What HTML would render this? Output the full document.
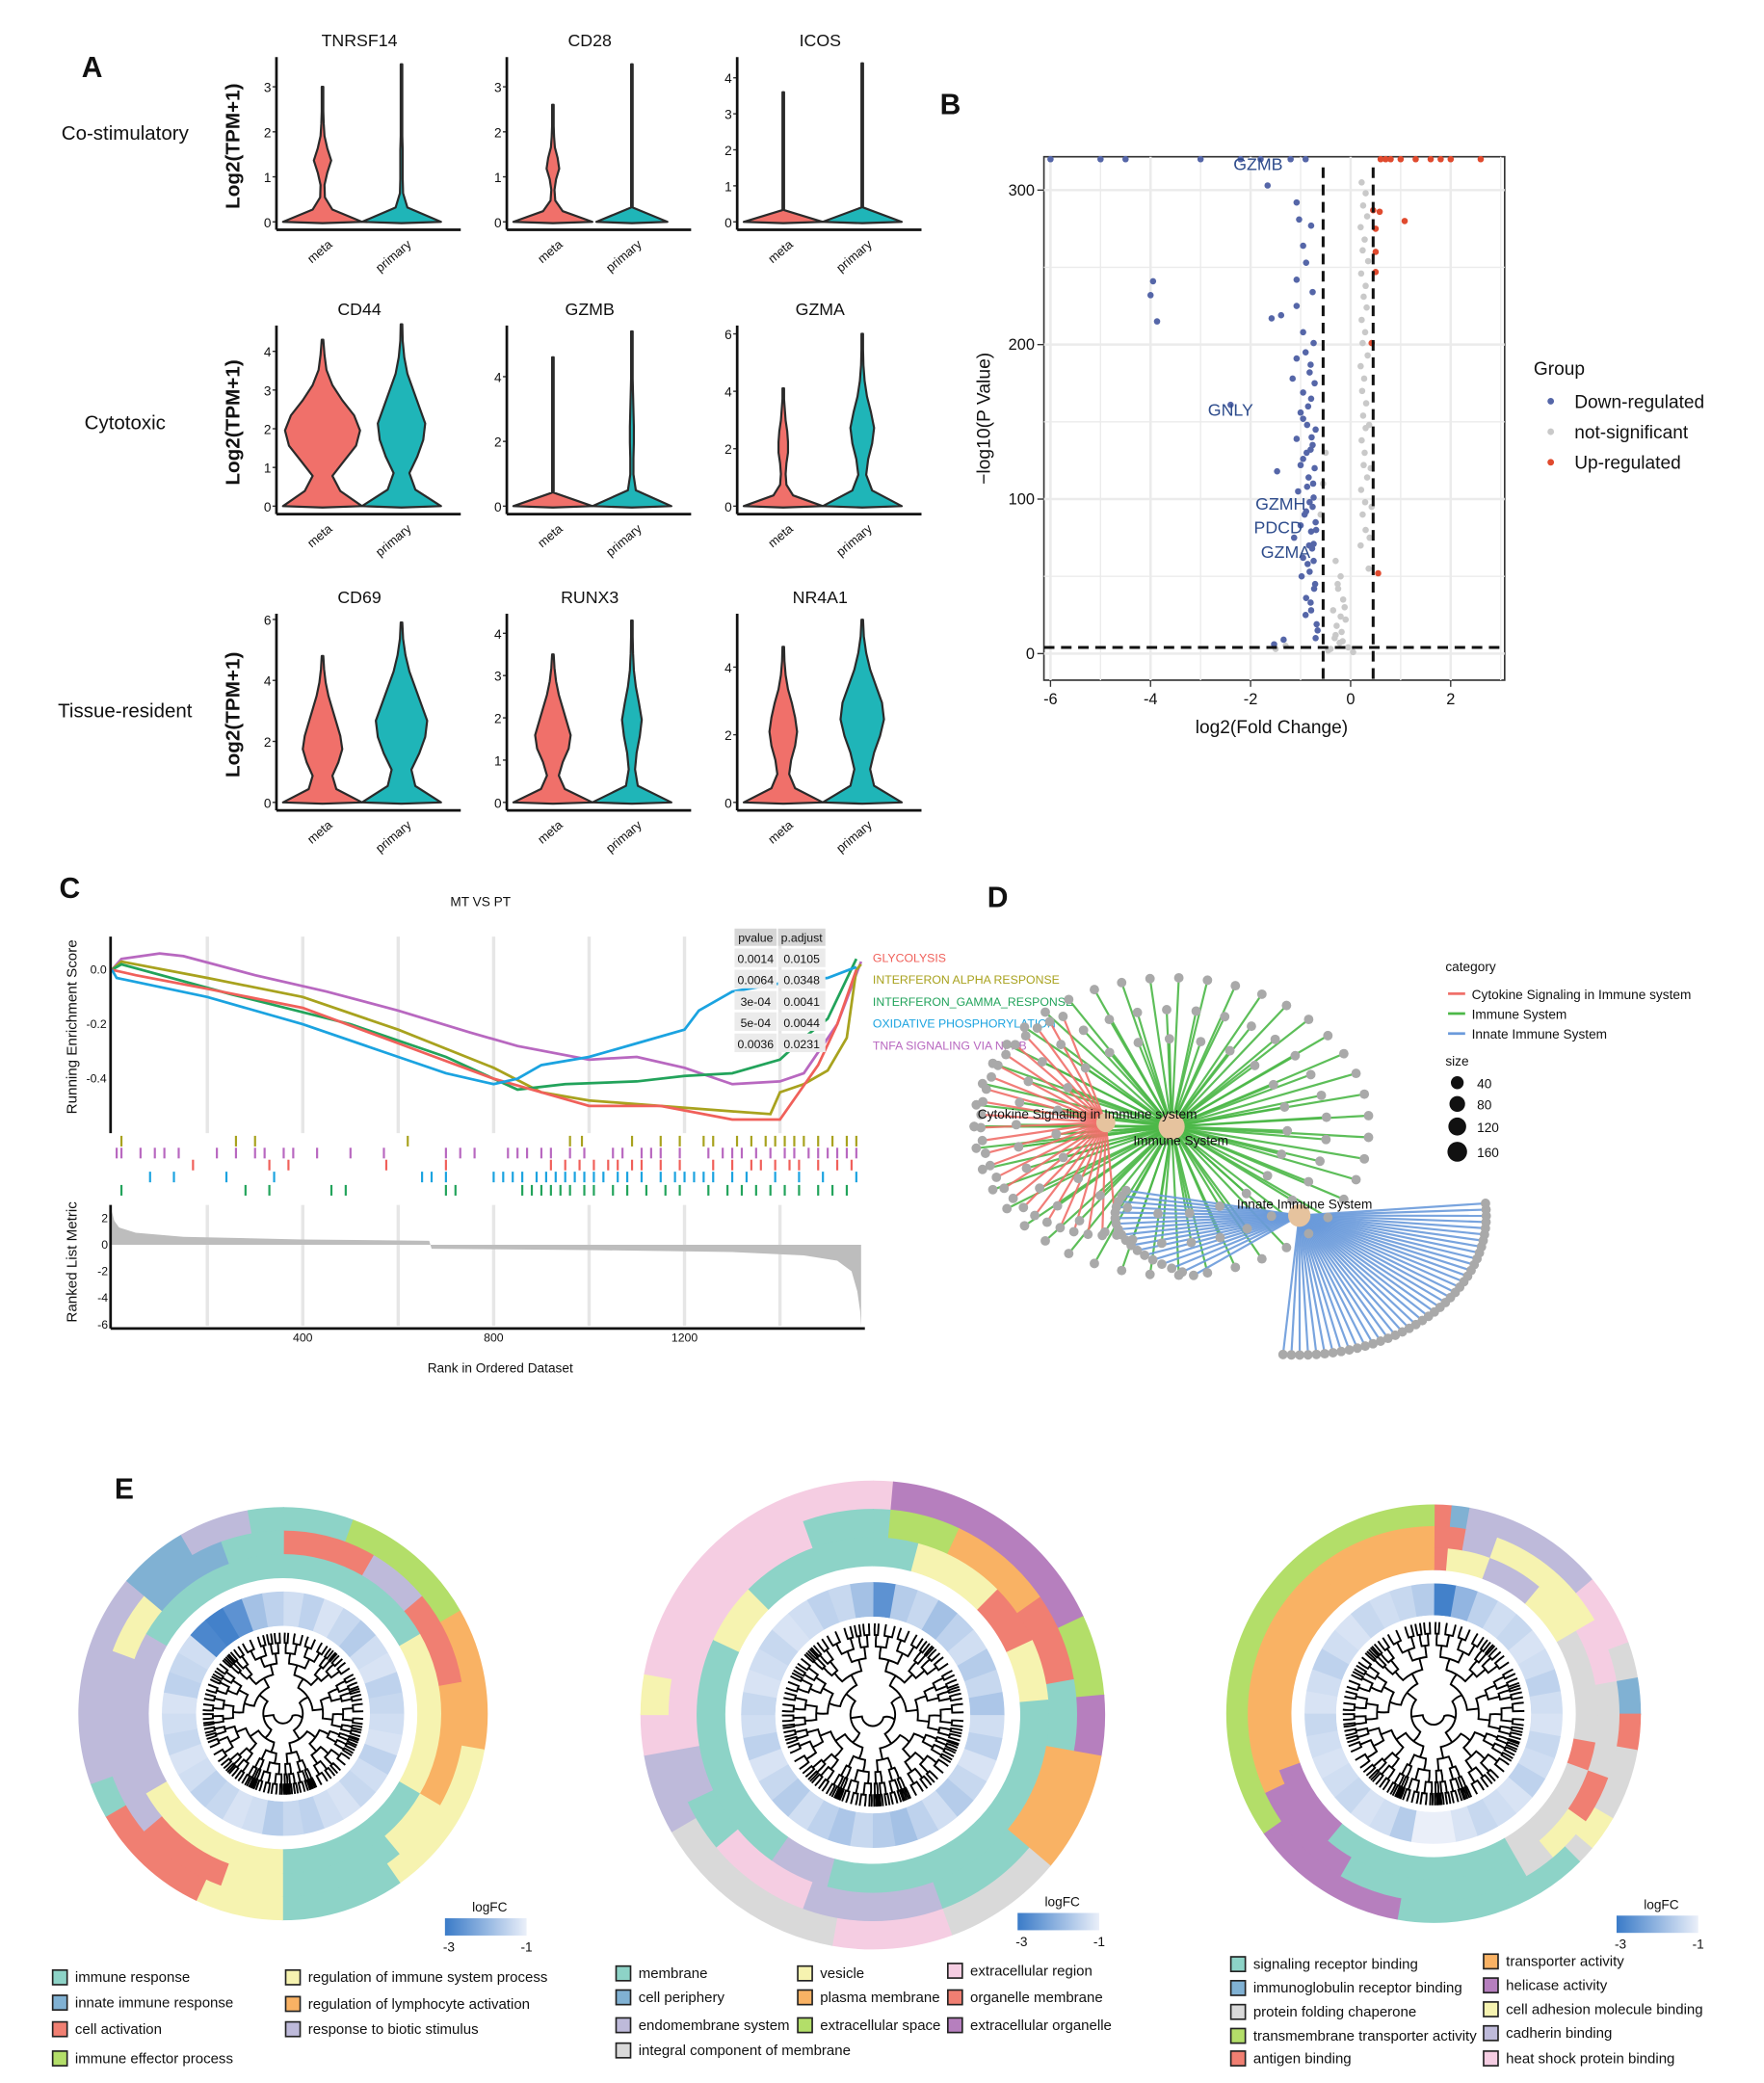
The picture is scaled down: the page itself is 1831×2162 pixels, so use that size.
<!DOCTYPE html>
<html><head><meta charset="utf-8"><title>Figure</title>
<style>html,body{margin:0;padding:0;background:#fff}svg{display:block;font-family:"Liberation Sans",Arial,sans-serif}</style>
</head><body>
<svg id="fig" xmlns="http://www.w3.org/2000/svg" width="1831" height="2162" viewBox="0 0 1340 1568" preserveAspectRatio="none"></svg>
<script>
// ---------- Panel A data ----------
const genes=["TNRSF14","CD28","ICOS","CD44","GZMB","GZMA","CD69","RUNX3","NR4A1"];
const geneMax=[3.6,3.6,4.5,4.6,5.5,6.2,6.1,4.4,5.5];
const geneTicks=[[0,1,2,3],[0,1,2,3],[0,1,2,3,4],[0,1,2,3,4],[0,2,4],[0,2,4,6],[0,2,4,6],[0,1,2,3,4],[0,2,4]];
const metaTop=[3.0,2.6,3.6,4.3,4.6,4.1,4.8,3.5,4.6];
const primTop=[3.5,3.5,4.4,4.7,5.4,6.0,5.9,4.3,5.4];
const metaShape=[
[1,0.25,0.06,0.05,0.12,0.22,0.12,0.05,0.03,0.02,0.02,0.01],
[1,0.25,0.06,0.04,0.08,0.16,0.12,0.05,0.03,0.02,0.01,0.01],
[1,0.02,0.01,0.01,0.01,0.01,0.01,0.01,0.01,0.01,0.01,0.01],
[1,0.45,0.25,0.55,0.85,0.95,0.8,0.5,0.25,0.1,0.05,0.02],
[1,0.02,0.01,0.01,0.01,0.01,0.01,0.01,0.01,0.01,0.01,0.01],
[1,0.25,0.08,0.06,0.08,0.12,0.12,0.1,0.06,0.04,0.02,0.01],
[1,0.35,0.25,0.4,0.5,0.45,0.35,0.25,0.15,0.08,0.04,0.01],
[1,0.3,0.15,0.25,0.4,0.45,0.35,0.25,0.15,0.08,0.04,0.01],
[1,0.3,0.15,0.2,0.3,0.35,0.3,0.22,0.12,0.06,0.03,0.01]];
const primShape=[
[1,0.15,0.04,0.03,0.03,0.03,0.02,0.02,0.02,0.01,0.01,0.01],
[0.9,0.02,0.01,0.01,0.01,0.01,0.01,0.01,0.01,0.01,0.01,0.01],
[1,0.02,0.01,0.01,0.01,0.01,0.01,0.01,0.01,0.01,0.01,0.01],
[1,0.35,0.2,0.4,0.55,0.6,0.45,0.3,0.15,0.07,0.03,0.01],
[1,0.1,0.04,0.04,0.05,0.05,0.04,0.03,0.02,0.01,0.01,0.01],
[1,0.25,0.1,0.15,0.25,0.3,0.22,0.12,0.06,0.03,0.02,0.01],
[1,0.35,0.25,0.45,0.6,0.65,0.5,0.35,0.2,0.1,0.04,0.01],
[1,0.15,0.08,0.12,0.2,0.25,0.18,0.1,0.05,0.03,0.02,0.01],
[1,0.3,0.2,0.3,0.45,0.55,0.5,0.35,0.2,0.1,0.04,0.01]];
const rowLabels=["Co-stimulatory","Cytotoxic","Tissue-resident"];
// ---------- Panel B data ----------
const downLfc=[-1.66,-1.08,-1.03,-0.79,-0.95,-0.89,-1.08,-0.76,-3.95,-4.0,-3.87,-1.58,-1.39,-1.08,-0.95,-0.74,-1.08,-0.82,-1.16,-0.95,-0.79,-2.4,-1.0,-0.87,-1.08,-0.76,-0.95,-1.47,-0.84,-1.05,-0.74,-0.89,-1.0,-0.79,-1.13,-0.74,-0.95,-0.82,-0.71,-0.89,-0.79,-0.68,-1.53,-1.34,-0.9,-0.8,-0.72,-0.85,-0.95,-0.7,-0.78,-0.88,-1.0,-0.75,-0.82,-0.92,-0.7,-0.77,-0.86,-0.98,-0.73,-0.8,-0.9,-0.74,-0.83,-0.69,-0.76,-0.87,-0.72,-0.8,-0.66,-0.7,-6.0,-5.0,-4.5,-3.0,-2.2,-1.8,-1.2,-0.9];
const downP=[303,292,281,277,264,253,242,234,241,232,215,217,219,225,208,201,191,182,178,169,165,161,156,148,139,135,126,118,114,105,101,92,83,79,75,71,62,53,45,36,28,19,6,9,195,187,175,160,152,145,140,130,122,110,98,90,85,68,58,50,42,33,25,60,70,80,95,108,120,132,15,10,320,320,320,320,320,320,320,320];
const grayLfc=[0.22,0.3,0.25,0.33,0.2,0.28,0.24,0.35,0.21,0.3,0.26,0.32,0.22,0.29,0.24,0.34,0.2,0.27,0.23,0.31,0.25,0.3,0.22,0.28,0.26,0.33,0.21,0.29,0.24,0.3,0.2,0.37,0.4,0.42,0.38,0.36,-0.3,-0.2,-0.25,-0.15,-0.35,-0.1,-0.28,-0.18,-0.32,-0.22,-0.05,-0.4,-0.45,0.05,-0.12,-0.26,-0.2,-0.3,-0.16,-0.5,-0.6,-1.5,-1.3,-0.55];
const grayP=[305,298,290,283,276,268,261,254,246,238,231,224,216,208,201,193,186,178,170,162,154,146,138,130,122,114,106,98,90,80,70,148,120,95,75,55,60,50,42,35,28,22,18,14,10,7,4,3,2,1,30,45,24,12,8,130,90,3,5,110];
const upLfc=[0.45,0.58,0.5,1.08,0.5,0.5,0.42,0.55,0.6,0.8,1.0,1.3,1.6,2.0,2.6,0.7,1.8];
const upP=[287,286,275,280,260,247,201,52,320,320,320,320,320,320,320,320,320];
const volXTicks=[-6,-4,-2,0,2];
const volYTicks=[0,100,200,300];
const volLabels=["GZMB","GNLY","GZMH","PDCD","GZMA"];
const volLabelLfc=[-1.85,-2.4,-1.4,-1.45,-1.3];
const volLabelP=[313,154,93,78,62];
// ---------- Panel C data ----------
const gseaNames=["GLYCOLYSIS","INTERFERON ALPHA RESPONSE","INTERFERON_GAMMA_RESPONSE","OXIDATIVE PHOSPHORYLATION","TNFA SIGNALING VIA NFKB"];
const gseaPval=["0.0014","0.0064","3e-04","5e-04","0.0036"];
const gseaPadj=["0.0105","0.0348","0.0041","0.0044","0.0231"];
const esRankRed=[0,50,200,400,600,800,1000,1150,1300,1400,1440,1480,1520,1560];
const esValRed=[0,-0.02,-0.07,-0.14,-0.27,-0.4,-0.5,-0.5,-0.55,-0.55,-0.45,-0.35,-0.2,0.0];
const esRankOlive=[0,20,200,400,600,800,900,1000,1150,1300,1380,1400,1450,1500,1540,1560,1570];
const esValOlive=[0,0.03,-0.03,-0.1,-0.22,-0.36,-0.45,-0.48,-0.5,-0.52,-0.53,-0.45,-0.42,-0.37,-0.25,0.0,0.02];
const esRankGreen=[0,20,250,500,700,850,950,1100,1200,1300,1400,1450,1500,1560];
const esValGreen=[0,0.02,-0.09,-0.2,-0.32,-0.44,-0.42,-0.41,-0.39,-0.38,-0.33,-0.25,-0.18,0.04];
const esRankBlue=[0,10,200,400,600,700,800,850,900,1000,1100,1200,1230,1300,1400,1500,1560];
const esValBlue=[0,-0.03,-0.1,-0.2,-0.32,-0.38,-0.42,-0.4,-0.35,-0.32,-0.27,-0.22,-0.15,-0.08,-0.05,-0.03,0.01];
const esRankPurple=[0,20,100,150,300,450,600,750,850,1000,1100,1200,1300,1400,1450,1520,1570];
const esValPurple=[0,0.04,0.06,0.05,-0.02,-0.08,-0.15,-0.23,-0.28,-0.33,-0.32,-0.36,-0.42,-0.41,-0.38,-0.2,0.03];
const hitsOlive=[20,260,300,620,960,985,1090,1150,1190,1240,1260,1310,1340,1370,1390,1410,1430,1450,1480,1510,1540,1560];
const hitsPurple=[10,20,60,90,110,140,220,260,300,320,360,380,430,500,570,700,730,760,830,850,870,900,920,960,990,1050,1070,1110,1130,1150,1190,1250,1280,1300,1320,1350,1380,1410,1430,1460,1480,1500,1520,1540,1560];
const hitsRed=[170,330,370,575,700,920,950,980,1010,1040,1060,1090,1110,1150,1190,1260,1300,1340,1360,1390,1420,1440,1480,1520,1550];
const hitsBlue=[80,130,240,340,650,670,700,800,820,840,860,890,910,930,950,970,990,1010,1030,1060,1080,1110,1150,1180,1200,1220,1240,1260,1300,1330,1390,1440,1490,1560];
const hitsGreen=[20,280,330,460,490,700,720,860,880,900,920,940,960,990,1010,1050,1080,1120,1160,1190,1250,1290,1320,1350,1380,1410,1440,1480,1510,1540];
const metricRank=[0,5,15,50,150,400,665,670,1000,1300,1450,1520,1550,1562,1568,1570];
const metricVal=[2.5,1.8,1.3,0.9,0.6,0.4,0.3,-0.3,-0.4,-0.55,-0.8,-1.2,-2,-3.5,-5,-6.2];
const rankTicks=[400,800,1200];
// ---------- Panel D data ----------
const hubNames=["Cytokine Signaling in Immune system","Immune System","Innate Immune System"];
const hubSize=[60,160,100];
const groupHub=[1,1,1,0,2,2];
const groupCount=[44,34,24,26,40,18];
const groupFrom=[-180,-170,-175,110,-95,160];
const groupTo=[180,190,185,275,5,235];
const groupRx=[150,118,88,95,142,140];
const groupRy=[112,88,66,85,105,55];
const sizeLegend=[40,80,120,160];
// ---------- Panel E data ----------
const eCats1=["immune response","innate immune response","cell activation","immune effector process","regulation of immune system process","regulation of lymphocyte activation","response to biotic stimulus"];
const eCats2=["membrane","cell periphery","endomembrane system","integral component of membrane","vesicle","plasma membrane","extracellular space","extracellular region","organelle membrane","extracellular organelle"];
const eCats3=["signaling receptor binding","immunoglobulin receptor binding","protein folding chaperone","transmembrane transporter activity","antigen binding","transporter activity","helicase activity","cell adhesion molecule binding","cadherin binding","heat shock protein binding"];
const ring1Cat=[["te","gn","or","ye","te","ye","rd","te","lv","bl","lv","te"],["rd","lv","rd","or","yl","te","ye","rd","lv","ye","bl","te"],["te","ye","te","ye","lv","te"]];
const ring1Deg=[[20,40,40,45,35,25,35,10,60,20,20,10],[30,20,30,40,20,40,20,30,60,20,30,20],[60,60,60,60,60,60]];
const ring2Cat=[["pk","pu","gn","pu","or","gy","pk","gy","lv","pk","ye","pk"],["te","gn","or","rd","te","or","te","lv","pk","te","lv","pk","te"],["te","ye","rd","ye","te","lv","te","ye","te"]];
const ring2Deg=[[5,60,20,15,30,30,30,50,20,10,10,80],[5,20,30,25,20,30,30,40,30,15,15,80,20],[15,30,20,20,110,20,80,20,45]];
const ring3Cat=[["rd","bl","lv","pk","gy","bl","rd","gy","ye","gy","te","pu","gn"],["rd","lv","ye","pk","gy","rd","ye","gy","te","pu","or"],["rd","ye","lv","ye","gy","rd","gy","te","pu","or"]];
const ring3Deg=[[5,5,40,20,10,10,10,20,10,5,55,45,125],[10,10,40,20,30,15,15,10,60,35,115],[5,15,20,20,40,10,40,70,30,110]];
const heat1=[-1.3,-1.5,-1.2,-1.4,-1.6,-1.3,-1.2,-1.5,-1.4,-1.3,-1.2,-1.5,-1.3,-1.4,-1.2,-1.3,-1.5,-1.4,-1.6,-1.3,-1.2,-1.4,-1.5,-1.3,-1.2,-1.4,-1.3,-1.2,-1.5,-1.4,-1.3,-2.8,-2.9,-2.6,-1.8,-1.5];
const heat2=[-2.6,-1.6,-1.4,-1.8,-1.5,-1.3,-1.6,-1.4,-1.7,-1.3,-1.5,-1.2,-1.4,-1.6,-1.3,-1.5,-1.8,-1.6,-1.4,-1.7,-1.5,-1.3,-1.6,-1.4,-1.2,-1.5,-1.3,-1.4,-1.2,-1.3,-1.4,-1.2,-1.3,-1.5,-1.4,-1.8];
const heat3=[-2.9,-2.0,-1.5,-1.3,-1.4,-1.2,-1.3,-1.5,-1.3,-1.2,-1.4,-1.3,-1.5,-1.2,-1.3,-1.4,-1.2,-0.9,-0.8,-1.6,-1.3,-1.2,-1.4,-1.3,-1.2,-1.3,-1.4,-1.2,-1.3,-1.5,-1.3,-1.2,-1.4,-1.3,-1.4,-1.6];

const NS="http://www.w3.org/2000/svg";
const svg=document.getElementById("fig");
const COL={te:"#8DD3C7",bl:"#80B1D3",rd:"#F07F72",gn:"#B3DE69",ye:"#F6F3B0",yl:"#F6F3B0",or:"#F9B264",lv:"#BEBADA",pk:"#F5CDE2",gy:"#D9D9D9",pu:"#B67FBE"};
function mk(tag,attrs,name,parent){
  const e=document.createElementNS(NS,tag);
  for(const k in attrs) e.setAttribute(k,attrs[k]);
  
  
  (parent||svg).appendChild(e);return e;}
function tx(x,y,s,size,name,extra,parent){
  const a={x:x,y:y,"font-size":size,fill:"#111"};
  for(const k in (extra||{})) a[k]=extra[k];
  const e=mk("text",a,name,parent);e.textContent=s;return e;}

tx(62,58,"A",22,"panel-label-a",{"font-weight":"bold"});
tx(714,86,"B",22,"panel-label-b",{"font-weight":"bold"});
tx(45,676,"C",22,"panel-label-c",{"font-weight":"bold"});
tx(750,683,"D",22,"panel-label-d",{"font-weight":"bold"});
tx(87,1128,"E",22,"panel-label-e",{"font-weight":"bold"});

// ---------- Panel A ----------
const colLeft=[210,385,560], rowTop=[43,245,462], rowZero=[167,381,604];
rowLabels.forEach((r,i)=>tx(95,[105,323,540][i],r,15,"row-label-"+i,{"text-anchor":"middle"}));
for(let i=0;i<9;i++){
  const r=Math.floor(i/3),c=i%3,L=colLeft[c],T=rowTop[r],Z=rowZero[r];
  const g=mk("g",{},"violin-panel-"+genes[i].toLowerCase());
  const sc=(Z-T-2)/geneMax[i];
  const y=v=>Z-v*sc;
  tx(L+63,T-8,genes[i],13,"violin-title",{"text-anchor":"middle"},g);
  if(c===0) tx(0,0,"Log2(TPM+1)",15,"y-axis-title",{"font-weight":"bold","text-anchor":"middle",transform:`translate(${L-28},${(T+Z)/2+5}) rotate(-90)`},g);
  geneTicks[i].forEach(t=>{
    tx(L-4,y(t)+4,String(t),10,"y-tick-label",{"text-anchor":"end"},g);
    mk("line",{x1:L-3,x2:L,y1:y(t),y2:y(t),stroke:"#333"},"y-tick",g);
  });
  [[35,metaTop[i],metaShape[i],"#F0706A","meta"],[95,primTop[i],primShape[i],"#1FB5B8","primary"]].forEach(([off,top,sh,fill,lab])=>{
    const cx=L+off,n=sh.length;let R=[],Lf=[];
    for(let k=0;k<n;k++){const yy=y(k/(n-1)*top);const w=Math.max(sh[k]*30,0.6);R.push(`${cx+w},${yy}`);Lf.unshift(`${cx-w},${yy}`);}
    mk("path",{d:"M"+cx+","+(Z+1)+" L"+R.join(" L")+" L"+Lf.join(" L")+" Z",fill:fill,stroke:"#2a2a2a","stroke-width":1.6,"stroke-linejoin":"round"},"violin-"+lab,g);
    tx(cx+8,Z+18,lab,9.5,"x-tick-label",{"text-anchor":"end",transform:`rotate(-40 ${cx+8} ${Z+18})`},g);
  });
  mk("line",{x1:L,x2:L,y1:T,y2:Z+6,stroke:"#111","stroke-width":2},"y-axis",g);
  mk("line",{x1:L,x2:L+140,y1:Z+6,y2:Z+6,stroke:"#111","stroke-width":2},"x-axis",g);
}

// ---------- Panel B ----------
const bx=v=>1026+v*38, by=v=>492-v*1.163;
const gB=mk("g",{},"volcano-plot");
mk("rect",{x:793,y:118,width:350,height:394,fill:"#fff",stroke:"#333","stroke-width":1.2},"plot-area",gB);
for(let v=-6;v<=3;v++){ if(bx(v)>793&&bx(v)<1143) mk("line",{x1:bx(v),x2:bx(v),y1:118,y2:512,stroke:"#EBEBEB","stroke-width":v%2?1:1.8},"grid-x",gB);}
for(let v=0;v<=300;v+=50) mk("line",{x1:793,x2:1143,y1:by(v),y2:by(v),stroke:"#EBEBEB","stroke-width":v%100?1:1.8},"grid-y",gB);
volXTicks.forEach(t=>{mk("line",{x1:bx(t),x2:bx(t),y1:512,y2:517,stroke:"#333"},"x-tick",gB);tx(bx(t),530,String(t),12,"x-tick-label",{"text-anchor":"middle"},gB);});
volYTicks.forEach(t=>{mk("line",{x1:788,x2:793,y1:by(t),y2:by(t),stroke:"#333"},"y-tick",gB);tx(786,by(t)+4,String(t),12,"y-tick-label",{"text-anchor":"end"},gB);});
grayLfc.forEach((v,i)=>mk("circle",{cx:bx(v),cy:by(Math.min(grayP[i],322)),r:2.4,fill:"#C9C9C9"},"point-not-significant",gB));
downLfc.forEach((v,i)=>mk("circle",{cx:bx(v),cy:by(Math.min(downP[i],322)),r:2.4,fill:"#5566A8"},"point-down-regulated",gB));
upLfc.forEach((v,i)=>mk("circle",{cx:bx(v),cy:by(Math.min(upP[i],322)),r:2.4,fill:"#E04A2E"},"point-up-regulated",gB));
mk("line",{x1:bx(-0.55),x2:bx(-0.55),y1:126,y2:512,stroke:"#111","stroke-width":2.2,"stroke-dasharray":"8,5"},"threshold-left",gB);
mk("line",{x1:bx(0.45),x2:bx(0.45),y1:126,y2:512,stroke:"#111","stroke-width":2.2,"stroke-dasharray":"8,5"},"threshold-right",gB);
mk("line",{x1:793,x2:1143,y1:by(4),y2:by(4),stroke:"#111","stroke-width":2.2,"stroke-dasharray":"8,5"},"threshold-p",gB);
volLabels.forEach((s,i)=>tx(bx(volLabelLfc[i]),by(volLabelP[i]),s,13,"gene-label",{"text-anchor":"middle",fill:"#2E4C8C"},gB));
tx(0,0,"\u2212log10(P Value)",14,"y-axis-title",{"text-anchor":"middle",transform:"translate(752,315) rotate(-90)"},gB);
tx(966,552,"log2(Fold Change)",14,"x-axis-title",{"text-anchor":"middle"},gB);
tx(1165,282,"Group",14,"legend-title",{},gB);
[["Down-regulated","#5566A8"],["not-significant","#C9C9C9"],["Up-regulated","#E04A2E"]].forEach(([s,c],i)=>{
  mk("circle",{cx:1178,cy:302+i*23,r:2.5,fill:c},"legend-marker",gB);
  tx(1196,307+i*23,s,14,"legend-entry",{},gB);});

// ---------- Panel C ----------
const gC=mk("g",{},"gsea-plot");
const cx=r=>85+r*0.3625, esY=v=>730-v*205, mY=v=>937-v*10;
tx(365,682,"MT VS PT",10,"gsea-title",{"text-anchor":"middle"},gC);
for(let r=200;r<=1400;r+=200){mk("line",{x1:cx(r),x2:cx(r),y1:705,y2:853,stroke:"#E6E6E6","stroke-width":2.5},"grid-x",gC);mk("line",{x1:cx(r),x2:cx(r),y1:907,y2:998,stroke:"#E6E6E6","stroke-width":2.5},"grid-x",gC);}
const gseaCols=["#F0605A","#A8A21E","#22A35B","#1BA3E0","#B868C0"];
[[esRankPurple,esValPurple,4],[esRankOlive,esValOlive,1],[esRankGreen,esValGreen,2],[esRankRed,esValRed,0],[esRankBlue,esValBlue,3]].forEach(([rk,vl,ci])=>{
  mk("polyline",{points:rk.map((r,i)=>cx(r)+","+esY(vl[i])).join(" "),fill:"none",stroke:gseaCols[ci],"stroke-width":2},"es-line-"+ci,gC);});
[[hitsOlive,1,855],[hitsPurple,4,864],[hitsRed,0,873],[hitsBlue,3,882],[hitsGreen,2,892]].forEach(([h,ci,y0])=>{
  h.forEach(r=>mk("line",{x1:cx(r),x2:cx(r),y1:y0,y2:y0+8,stroke:gseaCols[ci],"stroke-width":1.6},"hit-tick",gC));});
tx(81,733,"0.0",9,"y-tick-label",{"text-anchor":"end"},gC);tx(81,774,"-0.2",9,"y-tick-label",{"text-anchor":"end"},gC);tx(81,815,"-0.4",9,"y-tick-label",{"text-anchor":"end"},gC);
mk("line",{x1:84,x2:84,y1:705,y2:853,stroke:"#111","stroke-width":2},"y-axis",gC);
let pp=metricRank.map((r,i)=>cx(r)+","+mY(metricVal[i])).join(" ");
mk("polygon",{points:cx(0)+","+mY(0)+" "+pp+" "+cx(1570)+","+mY(0),fill:"#BDBDBD"},"ranked-metric-area",gC);
[2,0,-2,-4,-6].forEach(t=>tx(82,mY(t)+3,String(t),9,"y-tick-label",{"text-anchor":"end"},gC));
mk("line",{x1:84,x2:84,y1:907,y2:1000,stroke:"#111","stroke-width":2},"y-axis",gC);
mk("line",{x1:84,x2:657,y1:1000,y2:1000,stroke:"#111","stroke-width":2},"x-axis",gC);
rankTicks.forEach(t=>tx(cx(t),1010,String(t),9,"x-tick-label",{"text-anchor":"middle"},gC));
tx(380,1033,"Rank in Ordered Dataset",10,"x-axis-title",{"text-anchor":"middle"},gC);
tx(0,0,"Running Enrichment Score",11,"y-axis-title",{"text-anchor":"middle",transform:"translate(58,773) rotate(-90)"},gC);
tx(0,0,"Ranked List Metric",11,"y-axis-title",{"text-anchor":"middle",transform:"translate(58,950) rotate(-90)"},gC);
mk("rect",{x:558,y:699,width:32,height:13,fill:"#D6D6D6"},"table-header",gC);mk("rect",{x:591,y:699,width:36,height:13,fill:"#D6D6D6"},"table-header",gC);
tx(574,709,"pvalue",9,"table-header-text",{"text-anchor":"middle"},gC);tx(609,709,"p.adjust",9,"table-header-text",{"text-anchor":"middle"},gC);
gseaPval.forEach((p,i)=>{const y0=714+i*16;
  mk("rect",{x:558,y:y0,width:32,height:14,fill:"#EBEBEB"},"table-cell",gC);mk("rect",{x:591,y:y0,width:36,height:14,fill:"#EBEBEB"},"table-cell",gC);
  tx(574,y0+11,p,9,"table-pvalue",{"text-anchor":"middle"},gC);tx(609,y0+11,gseaPadj[i],9,"table-padjust",{"text-anchor":"middle"},gC);
  tx(663,724+i*16.5,gseaNames[i],9,"legend-entry",{fill:gseaCols[i]},gC);});

// ---------- Panel D ----------
const gD=mk("g",{},"network-plot");
const hubX=[840,890,987],hubY=[845,848,915],hubCol=["#F0706A","#4CB848","#6B9BDB"];
const sizeR=s=>3+Math.sqrt(s)*0.55;
const leaves=[];
groupHub.forEach((hi,gi)=>{
  const n=groupCount[gi];
  for(let k=0;k<n;k++){
    const a=(groupFrom[gi]+(groupTo[gi]-groupFrom[gi])*k/(n-1))*Math.PI/180;
    const lx=hubX[hi]+groupRx[gi]*Math.cos(a), ly=hubY[hi]-groupRy[gi]*Math.sin(a);
    mk("line",{x1:hubX[hi],y1:hubY[hi],x2:lx,y2:ly,stroke:hubCol[hi],"stroke-width":1.6,opacity:0.9},"edge",gD);
    leaves.push([lx,ly]);
  }});
leaves.forEach(([lx,ly])=>mk("circle",{cx:lx,cy:ly,r:3.6,fill:"#A9A9A9"},"gene-node",gD));
hubNames.forEach((h,hi)=>{mk("circle",{cx:hubX[hi],cy:hubY[hi],r:sizeR(hubSize[hi]),fill:"#E6C39E"},"category-node",gD);});
tx(826,842,hubNames[0],10,"node-label",{"text-anchor":"middle"},gD);tx(897,862,hubNames[1],10,"node-label",{"text-anchor":"middle"},gD);tx(991,910,hubNames[2],10,"node-label",{"text-anchor":"middle"},gD);
tx(1098,731,"category",10,"legend-title",{},gD);
["Cytokine Signaling in Immune system","Immune System","Innate Immune System"].forEach((s,i)=>{mk("line",{x1:1100,x2:1113,y1:748+i*15,y2:748+i*15,stroke:hubCol[i],"stroke-width":2},"legend-line",gD);tx(1118,752+i*15,s,10,"legend-entry",{},gD);});
tx(1098,802,"size",10,"legend-title",{},gD);
sizeLegend.forEach((s,i)=>{const y0=[815,831,848,867][i];mk("circle",{cx:1107,cy:y0,r:sizeR(s)*0.75,fill:"#111"},"size-legend-dot",gD);tx(1122,y0+4,String(s),10,"size-legend-label",{},gD);});

// ---------- Panel E ----------
function arc(cx0,cy0,r0,r1,a0,a1){const p=(r,a)=>[cx0+r*Math.sin(a*Math.PI/180),cy0-r*Math.cos(a*Math.PI/180)];const lg=(a1-a0)>180?1:0;
  const A=p(r1,a0),B=p(r1,a1),C=p(r0,a1),D=p(r0,a0);return `M${A} A${r1},${r1} 0 ${lg} 1 ${B} L${C} A${r0},${r0} 0 ${lg} 0 ${D}Z`;}
function heatCol(v){const t=Math.max(0,Math.min(1,(v+3)/2));const a=[58,123,200],b=[234,239,249];return `rgb(${a.map((x,i)=>Math.round(x+(b[i]-x)*t)).join(",")})`;}
const fracs=[0.5,0.35,0.6,0.45,0.3,0.55,0.65,0.4];
function dendro(cx0,cy0,a0,a1,depth,maxD,rLeaf,g,idx){
  const rNode=rLeaf*(0.12+0.88*depth/maxD);const mid=(a0+a1)/2;
  if(depth===maxD){return mid;}
  const f=fracs[(idx+depth)%fracs.length];const s=a0+(a1-a0)*f;
  const m1=dendro(cx0,cy0,a0,s,depth+1,maxD,rLeaf,g,idx*2+1), m2=dendro(cx0,cy0,s,a1,depth+1,maxD,rLeaf,g,idx*2+2);
  const rc=rLeaf*(0.12+0.88*(depth+1)/maxD);
  const P=(r,a)=>[cx0+r*Math.sin(a*Math.PI/180),cy0-r*Math.cos(a*Math.PI/180)];
  mk("path",{d:`M${P(rc,m1)} A${rNode},${rNode} 0 0 0 ${P(rNode,m1)} A${rNode},${rNode} 0 ${m2-m1>180?1:0} 1 ${P(rNode,m2)} L${P(rc,m2)}`,fill:"none",stroke:"#000","stroke-width":1.4},"dendrogram-branch",g);
  return (m1+m2)/2;}
function circ(cx0,cy0,R,rIn,hr0,hr1,rings,degs,heat,name){
  const g=mk("g",{},name);
  const w=(R-rIn)/3;
  rings.forEach((rc,ri)=>{let a=0;rc.forEach((c,k)=>{const d=degs[ri][k];
    mk("path",{d:arc(cx0,cy0,R-w*(ri+1),R-w*ri+0.5,a,a+d+0.3),fill:COL[c]},"category-segment",g);a+=d;});});
  mk("circle",{cx:cx0,cy:cy0,r:rIn-0.5,fill:"#fff"},"gap-ring",g);
  const st=360/heat.length;heat.forEach((v,k)=>mk("path",{d:arc(cx0,cy0,hr0,hr1,k*st,(k+1)*st+0.3),fill:heatCol(v)},"logfc-cell",g));
  mk("circle",{cx:cx0,cy:cy0,r:hr0,fill:"#fff"},"inner-white",g);
  dendro(cx0,cy0,0,360,0,7,hr0-5,g,0);
  return g;}
circ(215,1290,155,102,66,92,ring1Cat,ring1Deg,heat1,"circos-biological-process");
circ(663,1291,176,112,74,100,ring2Cat,ring2Deg,heat2,"circos-cellular-component");
circ(1089,1290,157,108,74,98,ring3Cat,ring3Deg,heat3,"circos-molecular-function");
[[338,1444,372],[773,1440,807],[1228,1442,1262]].forEach(([x0,y0,lx],i)=>{
  const gr=mk("linearGradient",{id:"lg"+i},"gradient",svg);
  mk("stop",{offset:"0","stop-color":"#3A7BC8"},"stop",gr);mk("stop",{offset:"1","stop-color":"#EAEFF9"},"stop",gr);
  mk("rect",{x:x0,y:y0,width:62,height:13,fill:`url(#lg${i})`},"logfc-colorbar",svg);
  tx(lx,y0-5,"logFC",10,"colorbar-title",{"text-anchor":"middle"});
  tx(x0+3,y0+25,"-3",10,"colorbar-tick",{"text-anchor":"middle"});tx(x0+62,y0+25,"-1",10,"colorbar-tick",{"text-anchor":"middle"});});
function legendE(items,cols,xs,ys,name){const g=mk("g",{},name);
  items.forEach((s,i)=>{const x0=xs[i],y0=ys[i];mk("rect",{x:x0,y:y0-9,width:11,height:11,fill:COL[cols[i]],stroke:"#222","stroke-width":1.2},"legend-swatch",g);tx(x0+17,y0,s,11,"legend-entry",{},g);});}
legendE(eCats1,["te","bl","rd","gn","ye","or","lv"],[40,40,40,40,217,217,217],[1492,1511,1531,1553,1492,1512,1531],"legend-biological-process");
legendE(eCats2,["te","bl","lv","gy","ye","or","gn","pk","rd","pu"],[468,468,468,468,606,606,606,720,720,720],[1489,1507,1528,1547,1489,1507,1528,1487,1507,1528],"legend-cellular-component");
legendE(eCats3,["te","bl","gy","gn","rd","or","pu","ye","lv","pk"],[935,935,935,935,935,1127,1127,1127,1127,1127],[1482,1500,1518,1536,1553,1480,1498,1516,1534,1553],"legend-molecular-function");
</script>
</body></html>
